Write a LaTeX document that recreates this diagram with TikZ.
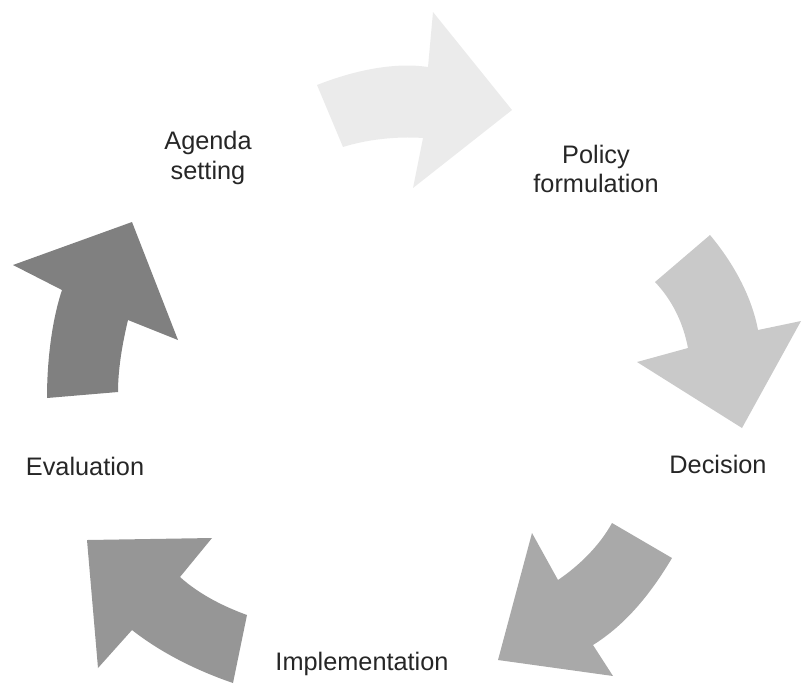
\documentclass[tikz,border=0pt]{standalone}
\usepackage{fontspec}
\setmainfont{Liberation Sans}
\usepackage{tikz}
\definecolor{shadeA}{HTML}{EBEBEB}
\definecolor{shadeB}{HTML}{C9C9C9}
\definecolor{shadeC}{HTML}{A9A9A9}
\definecolor{shadeD}{HTML}{969696}
\definecolor{shadeE}{HTML}{808080}

\begin{document}
\begin{tikzpicture}[x=0.025cm, y=-0.025cm,
		phase/.style={align=center, text=black!85, font=\fontsize{18}{21}\selectfont},
		bend/.style={fill=#1, draw=none}]
		\useasboundingbox (0,0) rectangle (802,687);
		\fill [bend=shadeA] (317,85) .. controls (355,70) and (395,62) .. (428,67) -- (433,12) -- (512,110) -- (413,188) -- (423,138) .. controls (395,136) and (365,140) .. (343,147) -- cycle;
		\fill [bend=shadeB] (655,282) -- (710,235) .. controls (735,265) and (752,298) .. (758,330) -- (801,321) -- (742,428) -- (637,362) -- (688,348) .. controls (683,322) and (672,300) .. (655,282) -- cycle;
		\fill [bend=shadeC] (612,523) -- (672,558) .. controls (650,595) and (625,625) .. (593,645) -- (613,676) -- (498,660) -- (532,533) -- (558,580) .. controls (580,565) and (600,545) .. (612,523) -- cycle;
		\fill [bend=shadeD] (87,540) -- (212,538) -- (180,577) .. controls (200,595) and (225,607) .. (247,615) -- (233,683) .. controls (195,670) and (160,652) .. (132,630) -- (98,668) -- cycle;
		\fill [bend=shadeE] (13,265) -- (132,222) -- (178,340) -- (128,320) .. controls (122,345) and (118,370) .. (118,392) -- (47,398) .. controls (47,360) and (52,320) .. (62,290) -- cycle;
		\node [phase] (agenda) at (208,158) {Agenda\\setting};
		\node [phase] (policy) at (596,169) {Policy\\formulation};
		\node [phase] (decision) at (718,464) {Decision};
		\node [phase] (implement) at (362,664) {Implementation};
		\node [phase] (evaluation) at (85,466) {Evaluation};
\end{tikzpicture}
\end{document}
